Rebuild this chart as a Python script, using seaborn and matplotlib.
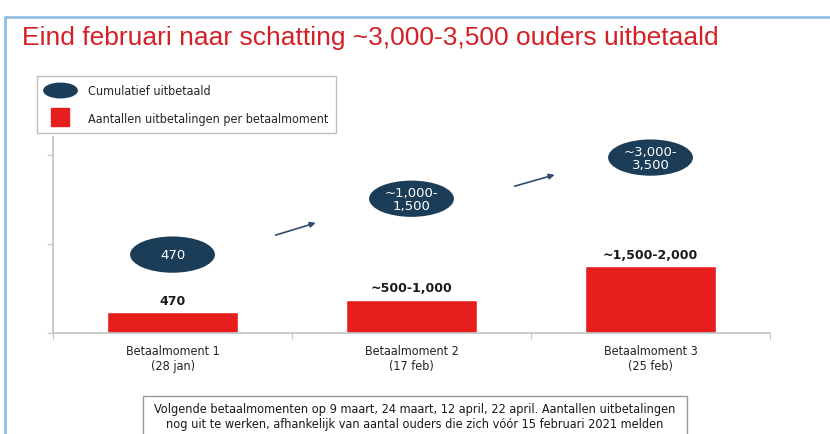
import matplotlib
matplotlib.use('Agg')
import matplotlib.pyplot as plt
import seaborn as sns
import pandas as pd
from matplotlib.lines import Line2D
from matplotlib.patches import Ellipse, Rectangle
from matplotlib.path import Path
from matplotlib.transforms import Affine2D

# data
momenten = ['Betaalmoment 1\n(28 jan)', 'Betaalmoment 2\n(17 feb)', 'Betaalmoment 3\n(25 feb)']
uitbetalingen = [470, 750, 1500]
bar_labels = ['470', '~500-1,000', '~1,500-2,000']
cumulatief = ['470', '~1,000-\n1,500', '~3,000-\n3,500']

titel = 'Eind februari naar schatting ~3,000-3,500 ouders uitbetaald'
voetnoot = ('Volgende betaalmomenten op 9 maart, 24 maart, 12 april, 22 april. Aantallen uitbetalingen\n'
            'nog uit te werken, afhankelijk van aantal ouders die zich vóór 15 februari 2021 melden')

rood = '#e61e1e'
navy = '#1c3d58'
grijs = '#c4c4c4'
smal = dict(family='DejaVu Sans', stretch='condensed')

sns.set_style('white')
plt.rcParams['font.family'] = ['DejaVu Sans']

fig = plt.figure(figsize=(8.3, 4.35), dpi=100)
ax = fig.add_axes([53 / 830, 101 / 435, 717 / 830, 196 / 435])

df = pd.DataFrame({'moment': momenten, 'aantal': uitbetalingen})
sns.barplot(data=df, x='moment', y='aantal', color=rood, saturation=1, width=0.55, ax=ax)
ax.set_xlim(-0.5, 2.5)
ax.set_ylim(0, 4400)

# waarde labels boven de balken
for i, (v, lab) in enumerate(zip(uitbetalingen, bar_labels)):
    ax.annotate(lab, (i, v), xytext=(0, 4), textcoords='offset points',
                ha='center', va='bottom', fontsize=9, fontweight='bold', color='#1a1a1a')

# cumulatief ellipsen (x in data, y in axes fractie)
trans = ax.get_xaxis_transform()
bubble_y = [0.40, 0.685, 0.895]
for i, (lab, yy) in enumerate(zip(cumulatief, bubble_y)):
    ax.add_patch(Ellipse((i, yy), 0.355, 0.185, transform=trans, fc=navy, ec='none', zorder=4))
    ax.text(i, yy, lab, transform=trans, ha='center', va='center', color='white',
            fontsize=9.5, linespacing=1.0, zorder=5)

# pijlen tussen de ellipsen
arrow_y = [(0.495, 0.566), (0.745, 0.811)]
for i, (y0, y1) in enumerate(arrow_y):
    ax.annotate('', xy=(i + 0.61, y1), xytext=(i + 0.42, y0), xycoords=trans, textcoords=trans,
                arrowprops=dict(arrowstyle='-|>', color='#2f4b6e', lw=1.2, mutation_scale=8))

# assen
sns.despine(ax=ax)
for s in ['left', 'bottom']:
    ax.spines[s].set_color(grijs)
    ax.spines[s].set_linewidth(1.2)
ax.set_yticks([0, 2000, 4000])
ax.set_yticklabels([])
ax.set_xticks([-0.5, 0.5, 1.5, 2.5])
ax.set_xticklabels([])
ax.set_xticks([0, 1, 2], minor=True)
ax.set_xticklabels(momenten, minor=True, fontsize=9, color='#222222', **smal)
ax.tick_params(axis='both', which='major', direction='out', length=4, color=grijs, left=True, bottom=True)
ax.tick_params(axis='x', which='minor', length=0, pad=8, bottom=True)
ax.set_xlabel('')
ax.set_ylabel('')

# legenda
ell_marker = Path.unit_circle().transformed(Affine2D().scale(2.3, 1))
handles = [
    Line2D([], [], marker=ell_marker, color=navy, linestyle='none', markersize=24),
    Line2D([], [], marker='s', color=rood, linestyle='none', markersize=13),
]
leg = fig.legend(handles, ['Cumulatief uitbetaald', 'Aantallen uitbetalingen per betaalmoment'],
                 loc='upper left', bbox_to_anchor=(37 / 830, 1 - 77 / 435), frameon=True,
                 fancybox=False, edgecolor='#b0b0b0', prop=dict(size=9, **smal),
                 handlelength=2.4, handletextpad=1.0, labelspacing=1.15, borderpad=0.65,
                 borderaxespad=0)
leg.get_frame().set_linewidth(1.0)

# titel
fig.text(22 / 830, 1 - 38 / 435, titel, ha='left', va='center', fontsize=19, color='#d42027',
         family=['Liberation Sans', 'DejaVu Sans'])

# rand van de dia
blauw = '#93bde3'
fig.add_artist(Line2D([5 / 830, 5 / 830], [0, 1 - 18 / 435], color=blauw, lw=2))
fig.add_artist(Line2D([5 / 830, 1], [1 - 18 / 435, 1 - 18 / 435], color=blauw, lw=2))

# voetnoot
fig.add_artist(Rectangle((143 / 830, -0.05), 544 / 830, 0.05 + 38 / 435, transform=fig.transFigure,
                         fc='white', ec='#999999', lw=1.0))
fig.text(415 / 830, 1 - 417 / 435, voetnoot, ha='center', va='center', fontsize=9.1,
         color='#1a1a1a', linespacing=1.15, **smal)

fig.savefig('out.png', dpi=100)
